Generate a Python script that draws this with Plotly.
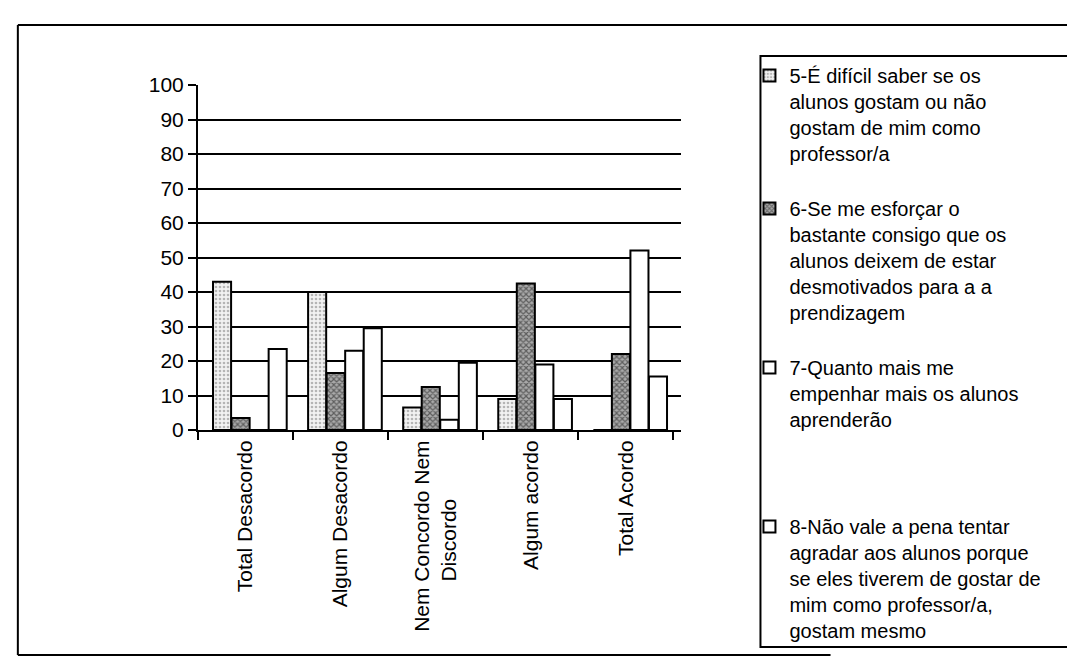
import plotly.graph_objects as go

NB = "\u00a0"
categories = ["Total Desacordo", "Algum Desacordo", "Nem Concordo Nem<br>Discordo" + NB * 10,
              "Algum acordo", "Total Acordo"]
series_names = [
    "5-É difícil saber se os<br>alunos gostam ou não<br>gostam de mim como<br>professor/a<br>" + NB,
    "6-Se me esforçar o<br>bastante consigo que os<br>alunos deixem de estar<br>desmotivados para a a<br>prendizagem<br>" + NB,
    "7-Quanto mais me<br>empenhar mais os alunos<br>aprenderão<br>" + NB + "<br>" + NB + "<br>" + NB,
    "8-Não vale a pena tentar<br>agradar aos alunos porque<br>se eles tiverem de gostar de<br>mim como professor/a,<br>gostam mesmo",
]
s5 = [43, 40, 6.5, 9, 0]
s6 = [3.5, 16.5, 12.5, 42.5, 22]
s7 = [0, 23, 3, 19, 52]
s8 = [23.5, 29.5, 19.5, 9, 15.5]
yticks = [0, 10, 20, 30, 40, 50, 60, 70, 80, 90, 100]

values = [s5, s6, s7, s8]
styles = [
    dict(color="white", pattern=dict(shape=".", fgcolor="#777", bgcolor="#f2f2f2", size=4, solidity=0.35)),
    dict(color="#555", pattern=dict(shape="x", fgcolor="#111", bgcolor="#aaa", size=4, solidity=0.5)),
    dict(color="white"),
    dict(color="white"),
]

# the page body has an 8px margin, so page coordinates are shifted by OFF
OFF = 8
W, H = 1075 - OFF, 668 - OFF
L, R, T, B = 198 - OFF, 680.6 - OFF, 85 - OFF, 430 - OFF

def xp(px):  # page pixel -> paper x
    return (px - OFF - L) / (R - L)

def yp(py):  # page pixel -> paper y
    return (B - (py - OFF)) / (B - T)

fig = go.Figure()
bw = 0.19
start = -0.342
for k, (name, vals, st) in enumerate(zip(series_names, values, styles)):
    fig.add_trace(go.Bar(
        x=categories, y=vals, name=name,
        width=bw, offset=start + k * 0.195,
        marker=dict(**st, line=dict(color="black", width=2)),
    ))

font = "Liberation Sans, Arial, sans-serif"
fig.update_layout(
    width=W, height=H,
    margin=dict(l=L, r=W - R, t=T, b=H - B, pad=0),
    paper_bgcolor="white", plot_bgcolor="white",
    font=dict(family=font, size=21, color="black"),
    barmode="overlay",
    showlegend=True,
    legend=dict(
        x=xp(749), y=yp(56), xanchor="left", yanchor="top",
        bgcolor="rgba(0,0,0,0)", borderwidth=0,
        font=dict(family=font, size=20, color="black"),
        valign="top", tracegroupgap=0, maxheight=640,
    ),
    xaxis=dict(
        type="category", range=[-0.5, 4.58],
        tickson="boundaries", ticks="outside", ticklen=8, tickwidth=2, tickcolor="black",
        tickangle=-90, showline=True, linecolor="black", linewidth=2,
        showgrid=False, tickfont=dict(size=21),
    ),
    yaxis=dict(
        range=[0, 100], tickvals=yticks, ticks="outside", ticklen=8, tickwidth=2,
        tickcolor="black", showline=True, linecolor="black", linewidth=2,
        showgrid=True, gridcolor="black", gridwidth=2, zeroline=False,
        tickfont=dict(size=21),
    ),
    shapes=[
        # outer frame lines
        dict(type="line", xref="paper", yref="paper", x0=xp(18), x1=xp(1075), y0=yp(25), y1=yp(25),
             line=dict(color="black", width=2)),
        dict(type="line", xref="paper", yref="paper", x0=xp(18), x1=xp(18), y0=yp(25), y1=yp(655),
             line=dict(color="black", width=2)),
        dict(type="line", xref="paper", yref="paper", x0=xp(18), x1=xp(830), y0=yp(655), y1=yp(655),
             line=dict(color="black", width=2)),
        # legend box
        dict(type="rect", xref="paper", yref="paper", x0=xp(760), x1=xp(1069), y0=yp(56), y1=yp(647),
             line=dict(color="black", width=2), fillcolor="rgba(0,0,0,0)"),
    ],
)

fig.write_html("out.html")
